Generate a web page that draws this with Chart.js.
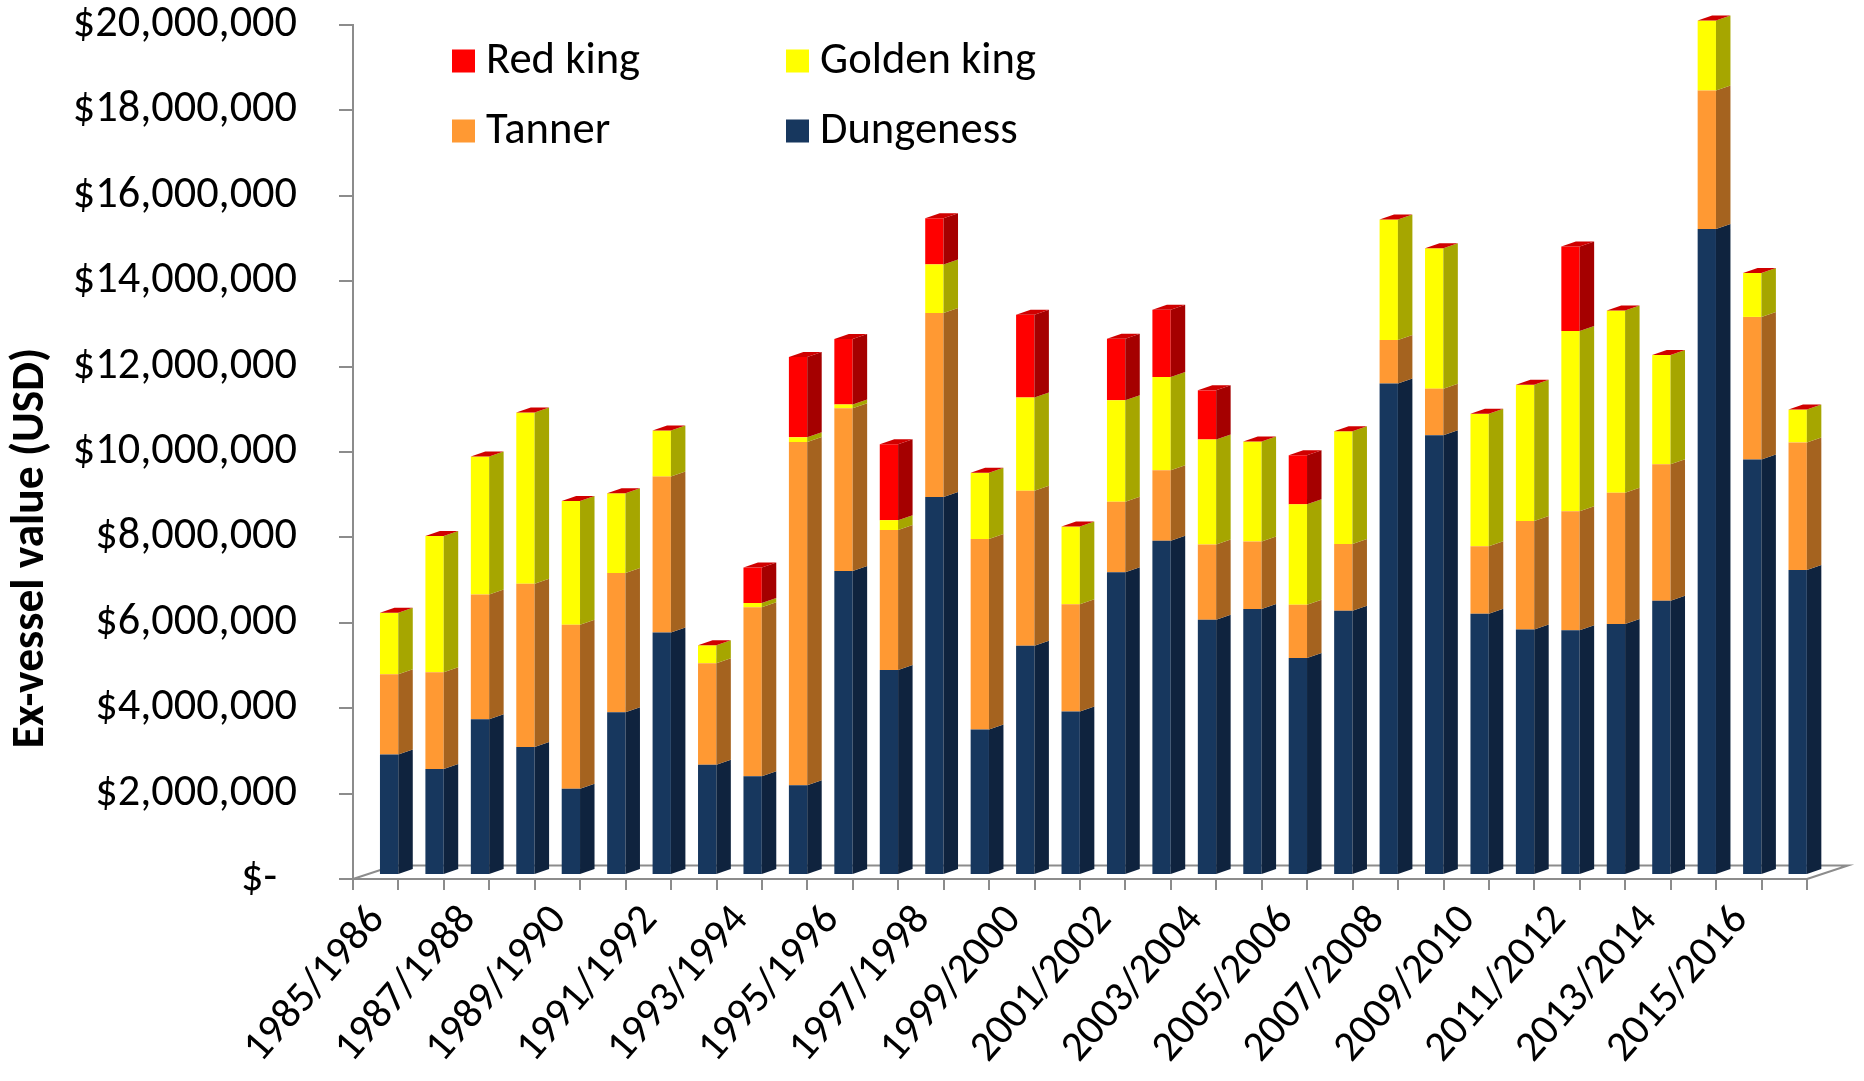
<!DOCTYPE html>
<html><head><meta charset="utf-8">
<script src="https://cdn.jsdelivr.net/npm/chart.js@4.4.1/dist/chart.umd.min.js"></script>
<style>html,body{margin:0;padding:0;background:#fff;}canvas{display:block;}</style>
</head><body>
<canvas id="c" width="1864" height="1081"></canvas>
<script>
// ---------------- data ----------------
const seasons = ['1985/1986','1986/1987','1987/1988','1988/1989','1989/1990','1990/1991','1991/1992','1992/1993',
  '1993/1994','1994/1995','1995/1996','1996/1997','1997/1998','1998/1999','1999/2000','2000/2001',
  '2001/2002','2002/2003','2003/2004','2004/2005','2005/2006','2006/2007','2007/2008','2008/2009',
  '2009/2010','2010/2011','2011/2012','2012/2013','2013/2014','2014/2015','2015/2016','2016/2017'];
const dungeness = [2820000,2480000,3650000,3000000,2020000,3810000,5680000,2580000,2310000,2100000,7120000,4800000,8850000,3410000,5370000,3830000,
  7090000,7830000,5980000,6230000,5080000,6190000,11510000,10300000,6120000,5750000,5730000,5880000,6420000,15130000,9730000,7140000];
const tanner = [1880000,2270000,2920000,3820000,3840000,3260000,3650000,2380000,3960000,8040000,3810000,3280000,4310000,4460000,3630000,2510000,
  1650000,1650000,1760000,1580000,1250000,1560000,1020000,1090000,1580000,2540000,2790000,3070000,3200000,3240000,3340000,2990000];
const goldenKing = [1440000,3190000,3230000,4010000,2900000,1870000,1080000,420000,100000,110000,90000,230000,1140000,1550000,2180000,1820000,
  2380000,2180000,2460000,2340000,2350000,2640000,2820000,3290000,3100000,3190000,4220000,4270000,2560000,1640000,1030000,770000];
const redKing = [0,0,0,0,0,0,0,0,830000,1880000,1530000,1780000,1080000,0,1940000,0,
  1440000,1580000,1150000,0,1150000,0,0,0,0,0,1980000,0,0,0,0,0];
const seriesNames = ['Dungeness','Tanner','Golden king','Red king'];
const yMin = 0, yMax = 20000000, yStep = 2000000;

// ---------------- style ----------------
const frontColors = ['#17375E','#FF9933','#FFFF00','#FF0000'];
const sideColors  = ['#0F233E','#A5631F','#A6A600','#A50000'];
const topColor = '#D00000';
const AXIS = '#8C8C8C';
const FAMILY = '"Carlito", "Lato", "DejaVu Sans", sans-serif';
function fitSize(text, target, weight) {
  const c = document.createElement('canvas').getContext('2d');
  c.font = weight + ' 100px ' + FAMILY;
  return Math.round(1000 * target / c.measureText(text).width) / 10;
}
const ySize = fitSize('$20,000,000', 224, 'normal');
const xSize = fitSize('1987/1988', 190, 'normal');
const legSize = fitSize('Golden king', 216, 'normal');
const titleSize = fitSize('Ex-vessel value (USD)', 400, 'bold');

const DEPTH = {dx: 14.5, dy: -5};
const FLOOR = {dx: 41, dy: -13.5};
const SHIFT = {x: 13.4, y: -4};

function money(v) {
  if (v === 0) return '$-  ';
  return '$' + String(Math.round(v)).replace(/\B(?=(\d{3})+(?!\d))/g, ',');
}

const threeD = {
  id: 'threeD',
  beforeDatasetsDraw(chart) {
    const {ctx, chartArea: a} = chart;
    ctx.save();
    ctx.strokeStyle = AXIS; ctx.lineWidth = 2;
    ctx.beginPath();
    ctx.moveTo(a.left, a.bottom);
    ctx.lineTo(a.left + FLOOR.dx, a.bottom + FLOOR.dy);
    ctx.lineTo(a.right + FLOOR.dx, a.bottom + FLOOR.dy);
    ctx.lineTo(a.right, a.bottom);
    ctx.stroke();
    ctx.restore();
    ctx.save();
    ctx.translate(SHIFT.x, SHIFT.y);
  },
  afterDatasetsDraw(chart) {
    const ctx = chart.ctx;
    const n = chart.data.datasets.length;
    for (let di = 0; di < n; di++) {
      const meta = chart.getDatasetMeta(di);
      meta.data.forEach(el => {
        const p = el.getProps(['x','y','base','width'], true);
        const r = p.x + p.width / 2;
        const top = Math.min(p.y, p.base), bot = Math.max(p.y, p.base);
        if (bot - top < 0.05) return;
        ctx.fillStyle = sideColors[di];
        ctx.beginPath();
        ctx.moveTo(r, top);
        ctx.lineTo(r + DEPTH.dx, top + DEPTH.dy);
        ctx.lineTo(r + DEPTH.dx, bot + DEPTH.dy);
        ctx.lineTo(r, bot);
        ctx.closePath();
        ctx.fill();
      });
    }
    const topMeta = chart.getDatasetMeta(n - 1);
    topMeta.data.forEach(el => {
      const p = el.getProps(['x','y','base','width'], true);
      const l = p.x - p.width / 2, r = p.x + p.width / 2, t = Math.min(p.y, p.base);
      ctx.fillStyle = topColor;
      ctx.beginPath();
      ctx.moveTo(l, t);
      ctx.lineTo(l + DEPTH.dx, t + DEPTH.dy);
      ctx.lineTo(r + DEPTH.dx, t + DEPTH.dy);
      ctx.lineTo(r, t);
      ctx.closePath();
      ctx.fill();
    });
    ctx.restore();
  }
};

const gridLegend = {
  id: 'gridLegend',
  afterDraw(chart) {
    const ctx = chart.ctx;
    const order = [3, 2, 1, 0];
    const cols = [452, 786], rows = [61, 131];
    ctx.save();
    ctx.font = 'normal ' + legSize + 'px ' + FAMILY;
    ctx.textBaseline = 'middle';
    ctx.textAlign = 'left';
    order.forEach((di, k) => {
      const ds = chart.data.datasets[di];
      const x = cols[k % 2], yc = rows[Math.floor(k / 2)];
      ctx.fillStyle = ds.backgroundColor;
      ctx.fillRect(x, yc - 11.5, 23, 23);
      ctx.fillStyle = '#000';
      ctx.fillText(ds.label, x + 34, yc + 1);
    });
    ctx.restore();
  }
};

const yTitle = {
  id: 'yTitle',
  afterDraw(chart) {
    const ctx = chart.ctx;
    ctx.save();
    ctx.translate(32, 548);
    ctx.rotate(-Math.PI / 2);
    ctx.font = 'bold ' + titleSize + 'px ' + FAMILY;
    ctx.fillStyle = '#000';
    ctx.textAlign = 'center';
    ctx.textBaseline = 'middle';
    ctx.fillText('Ex-vessel value (USD)', 0, 0);
    ctx.restore();
  }
};

Chart.defaults.color = '#000';
Chart.defaults.font.family = FAMILY;

const seriesData = [dungeness, tanner, goldenKing, redKing];
new Chart(document.getElementById('c'), {
  type: 'bar',
  data: {
    labels: seasons,
    datasets: seriesData.map((d, i) => ({
      label: seriesNames[i],
      data: d,
      backgroundColor: frontColors[i],
      borderWidth: 0,
      barPercentage: 0.403,
      categoryPercentage: 1.0,
      clip: false
    }))
  },
  options: {
    responsive: false,
    animation: false,
    devicePixelRatio: 1,
    layout: {padding: {left: 0, top: 25, right: 57, bottom: 0}},
    plugins: {legend: {display: false}, tooltip: {enabled: false}},
    scales: {
      x: {
        stacked: true,
        afterFit(s) { s.height = 202; s.paddingLeft = 0; s.paddingRight = 0; },
        border: {display: true, color: AXIS, width: 2},
        grid: {display: true, drawOnChartArea: false, drawTicks: true, tickLength: 11, color: AXIS, lineWidth: 2, offset: true},
        ticks: {
          autoSkip: false, minRotation: 49, maxRotation: 49, padding: 6, labelOffset: 2,
          font: {size: xSize},
          callback: (v, i) => (i % 2 === 0 ? seasons[i] : '')
        }
      },
      y: {
        stacked: true,
        min: yMin, max: yMax,
        afterFit(s) { s.width = 353; s.paddingTop = 0; s.paddingBottom = 0; },
        border: {display: true, color: AXIS, width: 2},
        grid: {display: true, drawOnChartArea: false, drawTicks: true, tickLength: 14, color: AXIS, lineWidth: 2},
        ticks: {stepSize: yStep, padding: 42, font: {size: ySize}, callback: v => money(v)}
      }
    }
  },
  plugins: [threeD, gridLegend, yTitle]
});
</script>
</body></html>
